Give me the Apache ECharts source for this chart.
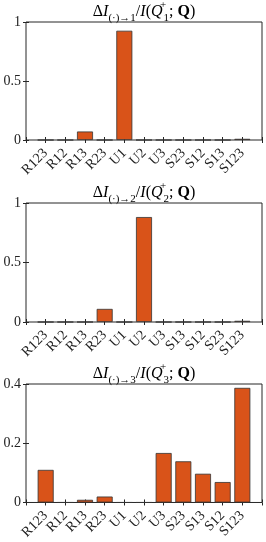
<!DOCTYPE html>
<html><head><meta charset="utf-8">
<script src="https://cdn.jsdelivr.net/npm/echarts@6/dist/echarts.min.js"></script>
<style>html,body{margin:0;padding:0;background:#fff}#c{width:266px;height:542px}</style>
</head><body><div id="c"></div>
<script>
const cats1 = ['R123','R12','R13','R23','U1','U2','U3','S23','S12','S13','S123'];
const vals1 = [0, 0, 0.072, 0, 0.926, 0, 0, 0, 0, 0, 0.01];
const cats2 = ['R123','R12','R13','R23','U1','U2','U3','S13','S12','S23','S123'];
const vals2 = [0, 0, 0, 0.11, 0, 0.882, 0, 0, 0, 0, 0.01];
const cats3 = ['R123','R12','R13','R23','U1','U2','U3','S23','S13','S12','S123'];
const vals3 = [0.11, 0, 0.009, 0.02, 0, 0, 0.167, 0.139, 0.097, 0.069, 0.387];
const ticks1 = [0, 0.5, 1];
const ticks3 = [0, 0.2, 0.4];

const FF = '"Liberation Serif", "DejaVu Serif", serif';
const ink = '#262626';
const grids = [
  {left: 26, right: 4, top: 22, height: 118},
  {left: 26, right: 4, top: 203, height: 119},
  {left: 26, right: 4, top: 384, height: 120}
];
function titleText(k){
  return '{d|Δ}{i|I}{s|(·)→' + k + '}{n|/}{i|I}{n|(}{i|Q}{sp|+}{s2|' + k + '}{n|; }{b|Q}{n|)}';
}
const base = {fontFamily:FF, fontSize:16, color:'#000', fontWeight:'normal', fontStyle:'normal', verticalAlign:'middle', lineHeight:22};
const rich = {
  d: Object.assign({}, base),
  n: Object.assign({}, base),
  i: Object.assign({}, base, {fontStyle:'italic'}),
  b: Object.assign({}, base, {fontWeight:'bold'}),
  s: Object.assign({}, base, {fontSize:11, verticalAlign:'bottom', lineHeight:24}),
  s2: Object.assign({}, base, {fontSize:11, verticalAlign:'bottom', lineHeight:24}),
  sp: Object.assign({}, base, {fontSize:11, verticalAlign:'top', width:1})
};
const tops = [0, 181, 362];
const title = tops.map((t,i)=>({text:titleText(i+1), left:144, top:t, textAlign:'center', padding:0,
  textStyle:{fontWeight:'normal', fontFamily:FF, fontSize:16, rich:rich}}));
const catsAll = [cats1, cats2, cats3];
const valsAll = [vals1, vals2, vals3];
const ymax = [1, 1, 0.4], yint = [0.5, 0.5, 0.2];
const xAxis = [];
for (let i=0;i<3;i++) xAxis.push({
  type:'value', gridIndex:i, min:0, max:catsAll[i].length+1, interval:1, position:'bottom',
  axisLine:{show:false},
  splitLine:{show:false},
  axisTick:{show:true, inside:true, length:3, lineStyle:{color:ink}},
  axisLabel:{rotate:45, fontFamily:FF, fontSize:14, color:'#222', margin:11,
    formatter: v => catsAll[i][v-1] || ''}
});
for (let i=0;i<3;i++) xAxis.push({
  type:'value', gridIndex:i, min:0, max:catsAll[i].length+1, interval:1, position:'top',
  axisLine:{show:false}, splitLine:{show:false},
  axisTick:{show:true, inside:true, length:3, lineStyle:{color:ink}},
  axisLabel:{show:false}
});
const yAxis = [];
for (let i=0;i<3;i++) yAxis.push({
  type:'value', gridIndex:i, min:0, max:ymax[i], interval:yint[i], position:'left',
  axisLine:{show:false},
  axisTick:{show:true, inside:true, length:3, lineStyle:{color:ink}},
  splitLine:{show:false},
  axisLabel:{fontFamily:FF, fontSize:14, color:'#222', margin:5,
    formatter: v => String(+v.toFixed(2))}
});
for (let i=0;i<3;i++) yAxis.push({
  type:'value', gridIndex:i, min:0, max:ymax[i], interval:yint[i], position:'right',
  axisLine:{show:false}, splitLine:{show:false},
  axisTick:{show:true, inside:true, length:3, lineStyle:{color:ink}},
  axisLabel:{show:false}
});
const series = valsAll.map((v,i)=>({
  type:'bar', xAxisIndex:i, yAxisIndex:i,
  data: v.map((y,k)=>[k+1, y]), barWidth:16,
  itemStyle:{color:'#D95319', borderColor:'#333', borderWidth:0.8},
  silent:true, animation:false, z:1
}));
const chart = echarts.init(document.getElementById('c'), null, {renderer:'canvas'});
chart.setOption({
  animation:false,
  title: title,
  grid: grids.map(g=>Object.assign({show:true, borderColor:ink, borderWidth:1, backgroundColor:'#fff', containLabel:false, z:0}, g)),
  xAxis, yAxis, series
});
</script></body></html>
